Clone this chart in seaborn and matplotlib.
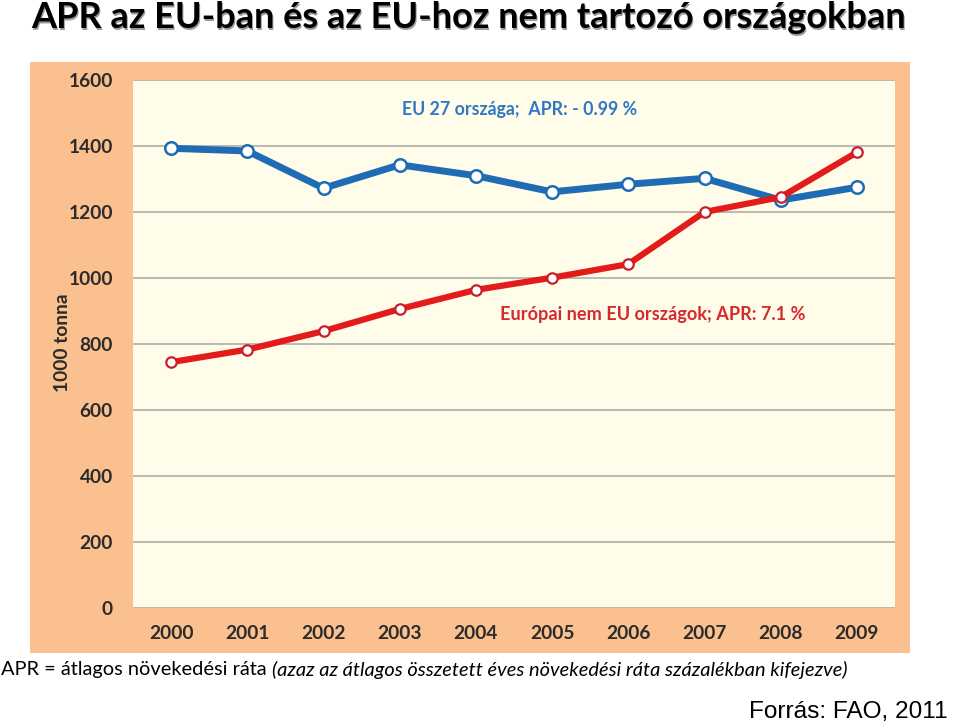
import matplotlib
matplotlib.use("Agg")
import matplotlib.pyplot as plt
import seaborn as sns
import pandas as pd
from matplotlib.patches import Rectangle

years = [2000, 2001, 2002, 2003, 2004, 2005, 2006, 2007, 2008, 2009]
eu27 = [1393, 1385, 1272, 1343, 1310, 1261, 1284, 1302, 1236, 1275]
non_eu = [745, 783, 839, 906, 964, 1001, 1042, 1200, 1245, 1381]
series_names = ["EU 27 országa", "Európai nem EU országok"]
yticks = [0, 200, 400, 600, 800, 1000, 1200, 1400, 1600]

title = "APR az EU-ban és az EU-hoz nem tartozó országokban"
eu_label = "EU 27 országa;  APR: - 0.99 %"
non_eu_label = "Európai nem EU országok; APR: 7.1 %"
ylabel = "1000 tonna"
note_plain = "APR = átlagos növekedési ráta "
note_italic = "(azaz az átlagos összetett éves növekedési ráta százalékban kifejezve)"
source = "Forrás: FAO, 2011"

BLUE = "#1F6CB4"
RED = "#E31B1B"
ORANGE = "#FAC08F"
CREAM = "#FFFDEA"

sns.set_theme(style="white")
plt.rcParams["font.family"] = ["Lato", "DejaVu Sans"]

df = pd.DataFrame({
    "pos": list(range(len(years))) * 2,
    "value": eu27 + non_eu,
    "series": [series_names[0]] * len(years) + [series_names[1]] * len(years),
})

W, H = 959, 725
fig = plt.figure(figsize=(W / 100, H / 100), dpi=100)
fig.patch.set_facecolor("white")

# orange panel
fig.patches.append(Rectangle((30 / W, 1 - 653 / H), (910 - 30) / W, (653 - 62) / H,
                             transform=fig.transFigure, facecolor=ORANGE,
                             edgecolor="none", zorder=0))

ax = fig.add_axes([133 / W, 1 - 608 / H, (895 - 133) / W, (608 - 80) / H])
ax.set_facecolor(CREAM)
ax.set_zorder(1)

sns.lineplot(data=df[df.series == series_names[0]], x="pos", y="value", ax=ax,
             color=BLUE, linewidth=5, marker="o", markersize=9,
             markerfacecolor="white", markeredgecolor=BLUE, markeredgewidth=1.8,
             legend=False)
sns.lineplot(data=df[df.series == series_names[1]], x="pos", y="value", ax=ax,
             color=RED, linewidth=4.5, marker="o", markersize=7.5,
             markerfacecolor="white", markeredgecolor="#C8202A", markeredgewidth=1.6,
             legend=False)

ax.set_xlim(-0.5, len(years) - 0.5)
ax.set_ylim(0, 1600)
ax.set_yticks(yticks)
ax.set_yticklabels([str(t) for t in yticks])
ax.set_xticks(range(len(years)))
ax.set_xticklabels([str(y) for y in years])
ax.grid(axis="y", color="#A8A8A0", linewidth=1.1)
ax.set_axisbelow(True)
for s in ax.spines.values():
    s.set_visible(False)
ax.tick_params(axis="both", length=0, labelsize=13.8, labelcolor="#2B2B2B")
ax.tick_params(axis="y", pad=14.5)
ax.tick_params(axis="x", pad=12.5)
for lab in ax.get_xticklabels() + ax.get_yticklabels():
    lab.set_fontweight("bold")
ax.set_xlabel("")
ax.set_ylabel("")

fig.text(62 / W, 1 - 343 / H, ylabel, rotation=90, ha="center", va="center",
         fontsize=13.8, fontweight="bold", color="#2B2B2B")

ax.text(3.03, 1512, eu_label, color="#2F78C4", fontsize=12.8, fontweight="bold",
        ha="left", va="center")
ax.text(4.32, 890, non_eu_label, color="#D42A2F", fontsize=13.1, fontweight="bold",
        ha="left", va="center")

# title with slight shadow
fig.text(31 / W + 1.5 / W, 1 - 18 / H - 1.5 / H, title, fontsize=26, fontweight="bold",
         color="#9A9A9A", ha="left", va="center")
fig.text(31 / W, 1 - 18 / H, title, fontsize=26, fontweight="bold",
         color="black", ha="left", va="center")

t1 = fig.text(1 / W, 1 - 670 / H, note_plain, fontsize=14.4, color="black",
              ha="left", va="center", fontstretch="condensed")
fig.canvas.draw()
bb = t1.get_window_extent()
fig.text(bb.x1 / W, 1 - 670 / H, note_italic, fontsize=14.4, color="black",
         ha="left", va="center", style="italic", fontstretch="condensed")

fig.text(948 / W, 1 - 712 / H, source, fontsize=17.6, color="black",
         ha="right", va="center", family=["Liberation Sans", "DejaVu Sans"])

fig.savefig("out.png", dpi=100)
